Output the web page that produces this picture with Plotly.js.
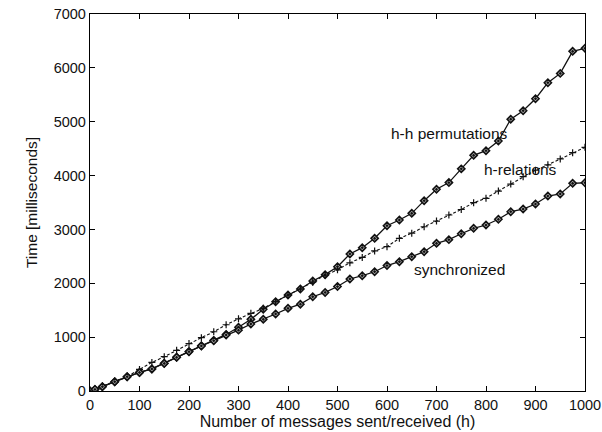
<!DOCTYPE html>
<html>
<head>
<meta charset="utf-8">
<script src="https://cdn.plot.ly/plotly-3.0.1.min.js"></script>
<style>html,body{margin:0;padding:0;background:#fff;}#chart{width:602px;height:432px;}</style>
</head>
<body>
<div id="chart"></div>
<script>
const hValues = [0,10,25,50,75,100,125,150,175,200,225,250,275,300,325,350,375,400,425,450,475,500,525,550,575,600,625,650,675,700,725,750,775,800,825,850,875,900,925,950,975,1000];
const hhPermutations = [0,30,80,173,266,345,410,515,626,735,840,940,1050,1183,1331,1517,1658,1782,1894,2042,2160,2308,2544,2661,2835,3069,3175,3299,3534,3745,3870,4125,4376,4462,4642,5047,5204,5427,5724,5897,6307,6363];
const hRelations = [0,35,90,175,270,400,530,637,755,880,990,1100,1230,1340,1443,1535,1660,1780,1890,2020,2150,2250,2380,2480,2600,2680,2835,2930,3050,3156,3268,3370,3496,3578,3713,3843,3979,4100,4200,4310,4425,4524];
const synchronized = [0,30,80,173,266,345,410,512,626,730,836,934,1040,1130,1244,1331,1430,1535,1612,1750,1830,1940,2080,2140,2215,2330,2401,2494,2587,2742,2810,2920,3021,3082,3188,3329,3379,3472,3620,3658,3856,3867];
const seriesNames = ["h-h permutations","h-relations","synchronized"];
const xTicks = [0,100,200,300,400,500,600,700,800,900,1000];
const yTicks = [0,1000,2000,3000,4000,5000,6000,7000];

const font = "Liberation Sans, Arial, Helvetica, sans-serif";
const diamondMarker = {symbol:"diamond-dot",size:5.5,color:"#bbb",line:{color:"#111",width:1.6}};
const traces = [
  {x:hValues, y:hhPermutations, name:seriesNames[0], mode:"lines+markers",
   line:{color:"#111",width:1.3}, marker:diamondMarker},
  {x:hValues, y:hRelations, name:seriesNames[1], mode:"lines+markers",
   line:{color:"#111",width:1.1,dash:"3px,2px"}, marker:{symbol:"cross-thin-open",size:5,line:{color:"#111",width:1.2}}},
  {x:hValues, y:synchronized, name:seriesNames[2], mode:"lines+markers",
   line:{color:"#111",width:1.3}, marker:diamondMarker}
];
const axisCommon = {showgrid:false, zeroline:false, showline:true, linecolor:"#000", linewidth:1.2,
  mirror:"ticks", ticks:"inside", ticklen:5, tickcolor:"#000", tickfont:{family:font,size:14.5,color:"#111"}};
const layout = {
  width:602, height:432, margin:{l:90,r:17,t:14,b:41},
  paper_bgcolor:"#fff", plot_bgcolor:"#fff", showlegend:false,
  font:{family:font,color:"#111"},
  xaxis:Object.assign({}, axisCommon, {range:[0,1000], tickvals:xTicks, ticktext:xTicks.map(String),
    title:{text:"Number of messages sent/received (h)", font:{family:font,size:16}, standoff:0}}),
  yaxis:Object.assign({}, axisCommon, {range:[0,7000], tickvals:yTicks, ticktext:yTicks.map(String),
    title:{text:"Time [milliseconds]", font:{family:font,size:15.5}, standoff:12}}),
  annotations:[
    {x:727, y:4790, xref:"x", yref:"y", text:seriesNames[0], showarrow:false, font:{family:font,size:15.5}, xanchor:"center"},
    {x:869, y:4122, xref:"x", yref:"y", text:seriesNames[1], showarrow:false, font:{family:font,size:15.5}, xanchor:"center"},
    {x:747, y:2265, xref:"x", yref:"y", text:seriesNames[2], showarrow:false, font:{family:font,size:15.5}, xanchor:"center"}
  ]
};
Plotly.newPlot("chart", traces, layout, {staticPlot:true, displayModeBar:false});
</script>
</body>
</html>
